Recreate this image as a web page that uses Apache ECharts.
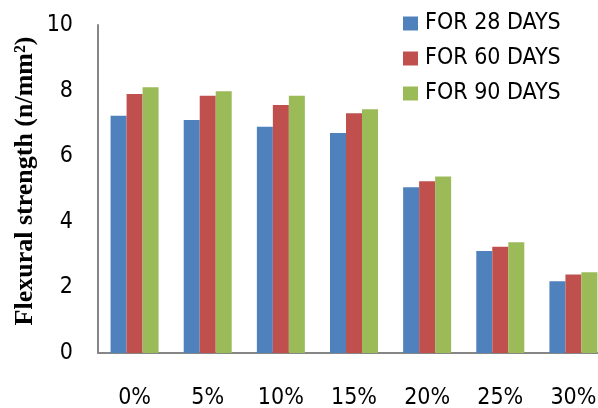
<!DOCTYPE html>
<html>
<head>
<meta charset="utf-8">
<script src="https://cdn.jsdelivr.net/npm/echarts@6/dist/echarts.min.js"></script>
<style>html,body{margin:0;padding:0;background:#fff}#c{width:598px;height:408px}</style>
</head>
<body>
<div id="c"></div>
<script>
const categories = ['0%', '5%', '10%', '15%', '20%', '25%', '30%'];
const seriesNames = ['FOR 28 DAYS', 'FOR 60 DAYS', 'FOR 90 DAYS'];
const days28 = [7.23, 7.10, 6.90, 6.71, 5.05, 3.11, 2.19];
const days60 = [7.90, 7.84, 7.56, 7.31, 5.24, 3.24, 2.39];
const days90 = [8.10, 7.98, 7.84, 7.43, 5.38, 3.38, 2.46];
const yTicks = [0, 2, 4, 6, 8, 10];
const yTitle = 'Flexural strength (n/mm²)';

const FONT = '"DejaVu Sans Condensed", sans-serif';
const colors = ['#4F81BD', '#C0504D', '#9BBB59'];
const chart = echarts.init(document.getElementById('c'), null, {renderer: 'canvas'});
const values = [days28, days60, days90];
chart.setOption({
  animation: false,
  color: colors,
  grid: {left: 98, top: 25, width: 512, height: 328, containLabel: false, outerBoundsMode: 'none'},
  legend: {
    orient: 'vertical', left: 403, top: 12, itemWidth: 15, itemHeight: 14, itemGap: 12,
    icon: 'rect', padding: 0,
    textStyle: {fontFamily: FONT, fontSize: 23, color: '#000', padding: [0, 0, 0, 2]},
    data: seriesNames
  },
  xAxis: {
    type: 'category', data: categories,
    axisLine: {lineStyle: {color: '#868686', width: 2}},
    axisTick: {show: false},
    axisLabel: {fontFamily: FONT, fontSize: 23, color: '#000', margin: 34}
  },
  yAxis: {
    type: 'value', min: yTicks[0], max: yTicks[yTicks.length - 1], interval: 2,
    splitLine: {show: false},
    axisLine: {show: true, lineStyle: {color: '#868686', width: 2}},
    axisTick: {show: false},
    axisLabel: {fontFamily: FONT, fontSize: 23, color: '#000', margin: 25}
  },
  graphic: [{
    type: 'text', x: 25, y: 181, rotation: Math.PI / 2,
    style: {text: yTitle, font: 'bold 26px "Liberation Serif", serif', fill: '#000', textAlign: 'center', textVerticalAlign: 'middle'}
  }],
  series: seriesNames.map((n, i) => ({
    name: n, type: 'bar', data: values[i], barWidth: 16, barGap: '0%'
  }))
});
</script>
</body>
</html>
